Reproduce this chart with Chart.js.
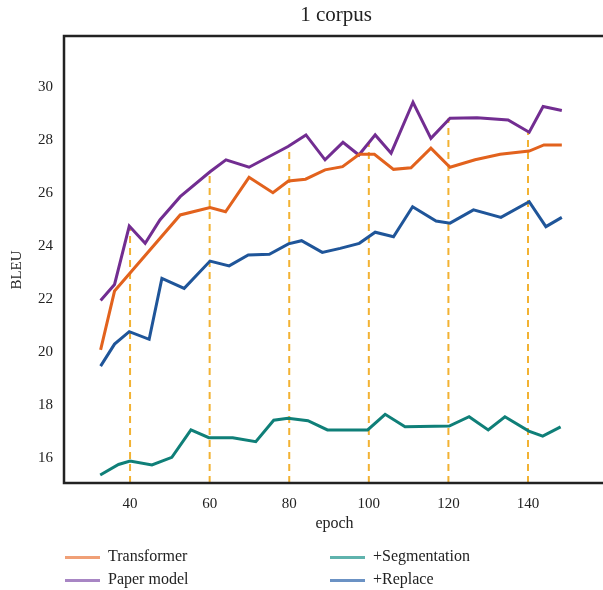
<!DOCTYPE html>
<html>
<head>
<meta charset="utf-8">
<script src="https://cdn.jsdelivr.net/npm/chart.js@4/dist/chart.umd.min.js"></script>
<style>
    html, body { margin: 0; padding: 0; background: #fff; overflow: hidden; }
    #wrap { position: relative; width: 606px; height: 590px; }
    #legend { position: absolute; left: 0; top: 546px; width: 606px; font-family: 'Liberation Serif', serif; font-size: 16px; color: #222; }
    .item { position: absolute; height: 20px; line-height: 20px; white-space: nowrap; }
    .item span.sw { display: inline-block; width: 35px; height: 3px; vertical-align: middle; margin-right: 8px; }
</style>
</head>
<body>
<div id="wrap">
    <canvas id="chart"></canvas>
    <div id="legend"></div>
</div>
<script>
// Datos
const seriesNames = ['Transformer', 'Paper model', '+Segmentation', '+Replace'];
const seriesColors = ['#e2621d', '#722d91', '#0f7f78', '#1f5599'];
const legendColors = ['#f0a077', '#a886c4', '#5fb3ad', '#6b92c4'];

const transformerEpochs = [32.6, 36.1, 52.6, 60.1, 64, 69.9, 75.9, 79.8, 84.1, 89, 93.4, 97.6, 101.4, 106.2, 110.6, 115.6, 120.4, 126.7, 133, 140.3, 144, 148.5];
const transformerBleu = [20.08, 22.3, 25.17, 25.45, 25.29, 26.59, 26.01, 26.45, 26.52, 26.87, 26.99, 27.46, 27.46, 26.89, 26.95, 27.69, 26.97, 27.25, 27.46, 27.58, 27.81, 27.81];

const paperEpochs = [32.6, 36.1, 39.8, 43.8, 47.5, 52.6, 60.1, 64.1, 69.9, 79.7, 84.2, 89, 93.5, 97.5, 101.6, 105.6, 111.1, 115.6, 120.4, 127.2, 135, 140.3, 143.8, 148.5];
const paperBleu = [21.94, 22.55, 24.75, 24.1, 24.98, 25.86, 26.8, 27.25, 26.97, 27.75, 28.19, 27.25, 27.91, 27.43, 28.19, 27.5, 29.42, 28.06, 28.82, 28.84, 28.75, 28.29, 29.26, 29.11];

const segmentationEpochs = [32.5, 37.1, 40, 45.5, 50.5, 55.3, 59.8, 65.8, 71.6, 76.1, 79.7, 84.7, 89.6, 99.7, 104.1, 109.1, 120.2, 125.2, 130, 134.2, 140.2, 143.7, 148.2];
const segmentationBleu = [15.36, 15.76, 15.89, 15.74, 16.03, 17.06, 16.77, 16.77, 16.62, 17.43, 17.5, 17.41, 17.06, 17.06, 17.65, 17.18, 17.21, 17.56, 17.06, 17.56, 17.02, 16.83, 17.18];

const replaceEpochs = [32.6, 36.1, 39.8, 44.8, 48, 53.6, 60.1, 64.9, 69.7, 75, 79.8, 83.1, 88.3, 92.8, 97.6, 101.6, 106.2, 111, 116.9, 120.4, 126.3, 133.2, 140.3, 144.5, 148.5];
const replaceBleu = [19.47, 20.3, 20.77, 20.48, 22.78, 22.4, 23.43, 23.25, 23.66, 23.69, 24.08, 24.2, 23.76, 23.91, 24.1, 24.52, 24.35, 25.48, 24.94, 24.86, 25.36, 25.08, 25.67, 24.73, 25.08];

// Líneas verticales discontinuas
const markerEpochs = [40, 60, 80, 100, 120, 140];
const markerTops = [24.75, 26.8, 27.72, 27.9, 28.82, 28.29];

const xTicks = [40, 60, 80, 100, 120, 140];
const yTicks = [16, 18, 20, 22, 24, 26, 28, 30];

const X_MIN = 23.4, X_MAX = 159.35;
const Y_MIN = 15.06, Y_MAX = 31.92;
const FONT = "'Liberation Serif', serif";

const toPoints = (xs, ys) => xs.map((x, i) => ({ x, y: ys[i] }));
const allEpochs = [transformerEpochs, paperEpochs, segmentationEpochs, replaceEpochs];
const allBleu = [transformerBleu, paperBleu, segmentationBleu, replaceBleu];

const datasets = [];
markerEpochs.forEach((e, i) => {
    datasets.push({
        label: '_marker',
        data: [{ x: e, y: Y_MIN }, { x: e, y: markerTops[i] }],
        borderColor: '#f2b233',
        borderWidth: 2,
        borderDash: [7, 5],
        pointRadius: 0,
        order: 10
    });
});
seriesNames.forEach((name, i) => {
    datasets.push({
        label: name,
        data: toPoints(allEpochs[i], allBleu[i]),
        borderColor: seriesColors[i],
        borderWidth: 3,
        pointRadius: 0,
        tension: 0,
        order: 1
    });
});

// Marco del área de trazado, título y etiqueta del eje Y
const framePlugin = {
    id: 'frame',
    afterDraw(chart) {
        const { ctx, chartArea: a } = chart;
        ctx.save();
        ctx.strokeStyle = '#222';
        ctx.lineWidth = 2.5;
        ctx.strokeRect(a.left, a.top, a.right - a.left, a.bottom - a.top);
        ctx.fillStyle = '#222';
        ctx.font = '21px ' + FONT;
        ctx.textAlign = 'center';
        ctx.textBaseline = 'middle';
        ctx.fillText('1 corpus', 336, 15);
        ctx.font = '15px ' + FONT;
        ctx.translate(17, 270);
        ctx.rotate(-Math.PI / 2);
        ctx.fillText('BLEU', 0, 0);
        ctx.restore();
    }
};

new Chart(document.getElementById('chart'), {
    type: 'line',
    data: { datasets },
    plugins: [framePlugin],
    options: {
        responsive: true,
        maintainAspectRatio: false,
        animation: false,
        layout: { padding: { top: 36, right: 1, left: 0, bottom: 0 } },
        plugins: {
            legend: { display: false },
            tooltip: { enabled: false }
        },
        scales: {
            x: {
                type: 'linear',
                min: X_MIN,
                max: X_MAX,
                afterBuildTicks: (s) => { s.ticks = xTicks.map(v => ({ value: v })); },
                afterFit: (s) => { s.height = 590 - 483; },
                grid: { display: false, drawTicks: false },
                border: { display: false },
                ticks: { color: '#222', font: { family: FONT, size: 15 }, padding: 12, maxRotation: 0 },
                title: { display: true, text: 'epoch', color: '#222', font: { family: FONT, size: 16 }, padding: { top: 0, bottom: 57 } }
            },
            y: {
                min: Y_MIN,
                max: Y_MAX,
                afterBuildTicks: (s) => { s.ticks = yTicks.map(v => ({ value: v })); },
                afterFit: (s) => { s.width = 64; },
                grid: { display: false, drawTicks: false },
                border: { display: false },
                ticks: { color: '#222', font: { family: FONT, size: 15 }, padding: 11 }
            }
        }
    }
});

// Leyenda en dos columnas
const legendPos = [[65, 0], [65, 23], [330, 0], [330, 23]];
const legendEl = document.getElementById('legend');
seriesNames.forEach((name, i) => {
    const d = document.createElement('div');
    d.className = 'item';
    d.style.left = legendPos[i][0] + 'px';
    d.style.top = legendPos[i][1] + 'px';
    d.innerHTML = '<span class="sw" style="background:' + legendColors[i] + '"></span>' + name;
    legendEl.appendChild(d);
});
</script>
</body>
</html>
